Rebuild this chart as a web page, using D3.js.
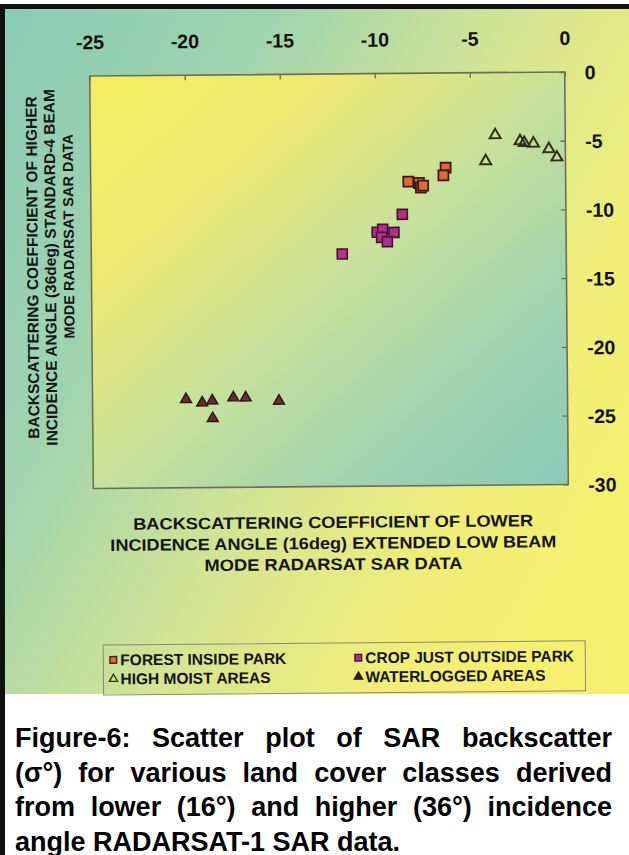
<!DOCTYPE html>
<html>
<head>
<meta charset="utf-8">
<script src="https://cdn.jsdelivr.net/npm/d3@7"></script>
<style>
  body { margin: 0; background: #fff; }
  text { font-family: "Liberation Sans", Arial, sans-serif; font-weight: bold; }
</style>
</head>
<body>
<script>
// ---- data (dB) ----
const xTicks = [-25, -20, -15, -10, -5, 0];
const yTicks = [0, -5, -10, -15, -20, -25, -30];

const forestX = [-8.28, -7.72, -7.62, -7.5, -6.31, -6.43];
const forestY = [-7.88, -7.98, -8.32, -8.18, -6.89, -7.44];

const cropX = [-8.61, -9.94, -9.65, -9.06, -9.71, -9.41, -11.79];
const cropY = [-10.25, -11.54, -11.33, -11.56, -11.91, -12.23, -13.1];

const moistX = [-3.69, -4.2, -2.38, -2.16, -1.68, -0.87, -0.45];
const moistY = [-4.54, -6.43, -5.0, -5.13, -5.18, -5.59, -6.2];

const waterX = [-20.08, -19.23, -18.70, -17.59, -16.94, -15.19, -18.68];
const waterY = [-23.57, -23.83, -23.69, -23.48, -23.49, -23.75, -24.97];

const xTitle = ["BACKSCATTERING COEFFICIENT OF LOWER",
                "INCIDENCE ANGLE (16deg) EXTENDED LOW BEAM",
                "MODE RADARSAT SAR DATA"];
const yTitle = ["BACKSCATTERING COEFFICIENT OF HIGHER",
                "INCIDENCE ANGLE (36deg) STANDARD-4 BEAM",
                "MODE RADARSAT SAR DATA"];
const legendLabels = ["FOREST INSIDE PARK", "CROP JUST OUTSIDE PARK",
                      "HIGH MOIST AREAS", "WATERLOGGED AREAS"];
const captionLines = [
  "Figure-6: Scatter plot of SAR backscatter",
  "(σ°) for various land cover classes derived",
  "from lower (16°) and higher (36°) incidence",
  "angle RADARSAT-1 SAR data."
];

// ---- page ----
const W = 629, H = 855;
const svg = d3.select("body").append("svg").attr("width", W).attr("height", H);
const defs = svg.append("defs");

function gradient(id, x1, y1, x2, y2, stops) {
  const g = defs.append("linearGradient").attr("id", id)
    .attr("x1", x1).attr("y1", y1).attr("x2", x2).attr("y2", y2);
  stops.forEach(([o, c]) => g.append("stop").attr("offset", o).attr("stop-color", c));
}
gradient("panelGrad", 0, 0.05, 1, 0.65, [
  [0, "#8dccb7"], [0.3, "#a0d4ae"], [0.6, "#d6e592"], [0.85, "#f0ee78"], [1, "#f5f070"]
]);
gradient("boxGrad", 0, 0, 1, 1, [
  [0, "#f5ee62"], [0.25, "#ede971"], [0.5, "#c8e29a"], [0.75, "#a2d3b0"], [1, "#8ccab9"]
]);

svg.append("rect").attr("width", W).attr("height", H).attr("fill", "#fff");
// coloured panel and its dark frame
svg.append("rect").attr("x", 5).attr("y", 9).attr("width", W - 5).attr("height", 685)
  .attr("fill", "url(#panelGrad)");
svg.append("rect").attr("x", 0).attr("y", 4).attr("width", W).attr("height", 5).attr("fill", "#111");
svg.append("rect").attr("x", 0).attr("y", 4).attr("width", 5).attr("height", H - 4).attr("fill", "#111");

// ---- chart ----
const box = { x0: 91.5, x1: 566.5, y0: 74, y1: 486.5 };
const x = d3.scaleLinear().domain([-25, 0]).range([box.x0, box.x1]);
const y = d3.scaleLinear().domain([0, -30]).range([box.y0, box.y1]);

const chart = svg.append("g").attr("transform", "rotate(-0.5 329 280)");

chart.append("rect")
  .attr("x", box.x0).attr("y", box.y0)
  .attr("width", box.x1 - box.x0).attr("height", box.y1 - box.y0)
  .attr("fill", "url(#boxGrad)");

const fmt = d => String(d);
const topAxis = chart.append("g").attr("transform", `translate(0,${box.y0})`)
  .call(d3.axisTop(x).tickValues(xTicks).tickFormat(fmt).tickSizeInner(-5).tickSizeOuter(0).tickPadding(27));
const rightAxis = chart.append("g").attr("transform", `translate(${box.x1},0)`)
  .call(d3.axisRight(y).tickValues(yTicks).tickFormat(fmt).tickSizeInner(-5).tickSizeOuter(0).tickPadding(20));
[topAxis, rightAxis].forEach(a => {
  a.select(".domain").remove();
  a.selectAll(".tick line").attr("stroke", "#6a6a55").attr("stroke-width", 1.3);
  a.selectAll(".tick text").attr("fill", "#111").style("font-size", "19.5px")
    .style("font-family", "'Liberation Sans', Arial, sans-serif").style("font-weight", "bold");
});
rightAxis.selectAll(".tick text").attr("dy", "0.36em");

chart.append("rect")
  .attr("x", box.x0).attr("y", box.y0)
  .attr("width", box.x1 - box.x0).attr("height", box.y1 - box.y0)
  .attr("fill", "none").attr("stroke", "#6e6e58").attr("stroke-width", 1.6);

// axis titles (widths held to the printed line lengths)
const xTitleLen = [400, 446, 258];
chart.append("g").selectAll("text").data(xTitle).join("text")
  .attr("x", 331).attr("y", (d, i) => 528 + i * 21)
  .attr("text-anchor", "middle").style("font-size", "16.5px").attr("fill", "#151515")
  .attr("textLength", (d, i) => xTitleLen[i]).attr("lengthAdjust", "spacingAndGlyphs")
  .text(d => d);

const yTitleSize = [15.5, 15.5, 14.5];
chart.append("g").selectAll("text").data(yTitle).join("text")
  .attr("transform", (d, i) => `translate(${38 + i * 18},${i === 2 ? 234 : 265}) rotate(-90)`)
  .attr("text-anchor", "middle").style("font-size", (d, i) => yTitleSize[i] + "px").attr("fill", "#151515")
  .text(d => d);

// ---- marks ----
const sq = d3.symbol().type(d3.symbolSquare).size(100);
const tri = d3.symbol().type(d3.symbolTriangle).size(52);

const series = [
  { xs: forestX, ys: forestY, path: sq(), fill: "#dd6a3c", stroke: "#3b1a12", sw: 1.8 },
  { xs: cropX, ys: cropY, path: sq(), fill: "#b22f8c", stroke: "#451038", sw: 1.6 },
  { xs: moistX, ys: moistY, path: tri(), fill: "none", stroke: "#303018", sw: 2 },
  { xs: waterX, ys: waterY, path: tri(), fill: "#6b2c2c", stroke: "#2a1414", sw: 1.4 }
];
series.forEach(s => {
  chart.append("g").selectAll("path").data(s.xs.map((v, i) => [v, s.ys[i]])).join("path")
    .attr("d", s.path)
    .attr("transform", d => `translate(${x(d[0])},${y(d[1])})`)
    .attr("fill", s.fill).attr("stroke", s.stroke).attr("stroke-width", s.sw);
});

// ---- legend ----
const leg = chart.append("g");
leg.append("rect").attr("x", 100).attr("y", 643).attr("width", 482).attr("height", 50)
  .attr("fill", "none").attr("stroke", "#8a8a78").attr("stroke-width", 1);
const legItems = [
  { lx: 110, ly: 658, path: d3.symbol().type(d3.symbolSquare).size(45)(), fill: "#dd6a3c", stroke: "#3b1a12" },
  { lx: 355, ly: 658, path: d3.symbol().type(d3.symbolSquare).size(45)(), fill: "#b22f8c", stroke: "#451038" },
  { lx: 110, ly: 677, path: d3.symbol().type(d3.symbolTriangle).size(30)(), fill: "none", stroke: "#303018" },
  { lx: 355, ly: 677, path: d3.symbol().type(d3.symbolTriangle).size(30)(), fill: "#3a1c1c", stroke: "#2a1414" }
];
legItems.forEach((it, i) => {
  leg.append("path").attr("d", it.path).attr("transform", `translate(${it.lx},${it.ly})`)
    .attr("fill", it.fill).attr("stroke", it.stroke).attr("stroke-width", 1.3);
  leg.append("text").attr("x", it.lx + 7).attr("y", it.ly + 5.5)
    .style("font-size", "15.5px").attr("fill", "#151515").text(legendLabels[i]);
});

// ---- caption (justified) ----
const capLeft = 15, capRight = 612, capSize = 27;
captionLines.forEach((line, li) => {
  const words = line.split(" ");
  const baseY = 747 + li * 34.5;
  const g = svg.append("g");
  const nodes = words.map(w => g.append("text").attr("y", baseY)
    .style("font-size", capSize + "px").attr("fill", "#000").text(w));
  const widths = nodes.map(n => n.node().getComputedTextLength());
  const total = d3.sum(widths);
  const last = li === captionLines.length - 1;
  const gap = last ? capSize * 0.278 : (capRight - capLeft - total) / (words.length - 1);
  let cx = capLeft;
  nodes.forEach((n, i) => { n.attr("x", cx); cx += widths[i] + gap; });
});
</script>
</body>
</html>
